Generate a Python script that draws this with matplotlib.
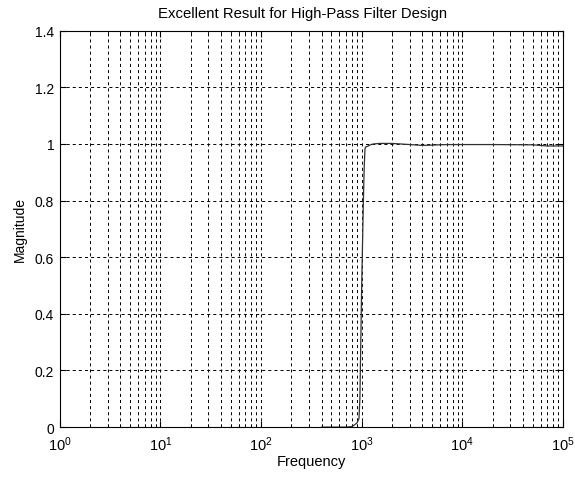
import numpy as np
import matplotlib
matplotlib.use("Agg")
import matplotlib.pyplot as plt
from matplotlib.ticker import LogLocator, NullFormatter

plt.rcParams['font.family'] = ['Liberation Sans', 'DejaVu Sans']
plt.rcParams['font.size'] = 10
plt.rcParams['mathtext.fontset'] = 'custom'
plt.rcParams['mathtext.rm'] = 'Liberation Sans'
plt.rcParams['lines.scale_dashes'] = False

# frequency response
freq = [400, 500, 600, 700, 800, 850, 900, 940, 960, 980, 1000, 1020, 1040,
        1060, 1080, 1100, 1150, 1200, 1300, 1500, 2000, 3000, 4000, 5000,
        7000, 10000, 20000, 50000, 70000, 100000]
mag = [0, 0, 0, 0, 0.002, 0.008, 0.015, 0.03, 0.1, 0.3, 0.5, 0.65, 0.8,
       0.92, 0.985, 0.99, 0.992, 0.996, 1.0, 1.002, 1.002, 0.998, 0.995,
       0.996, 0.998, 0.998, 0.998, 0.997, 0.993, 0.993]
yticks = [0, 0.2, 0.4, 0.6, 0.8, 1, 1.2, 1.4]
yticklabels = ['0', '0.2', '0.4', '0.6', '0.8', '1', '1.2', '1.4']

fig = plt.figure(figsize=(5.75, 4.81), dpi=100)
ax = fig.add_axes([0.104, 0.110, 0.875, 0.824])

ax.semilogx(freq, mag, color='#303030', lw=0.9)

ax.set_xlim(1, 1e5)
ax.set_ylim(0, 1.4)
ax.xaxis.set_major_locator(LogLocator(base=10, numticks=10))
ax.xaxis.set_minor_locator(LogLocator(base=10, subs=np.arange(2, 10), numticks=20))
ax.xaxis.set_minor_formatter(NullFormatter())
ax.set_yticks(yticks)
ax.set_yticklabels(yticklabels)

grid_style = dict(color='black', linestyle=(0, (2.2, 2.2)), linewidth=0.7)
ax.grid(True, which='major', axis='both', **grid_style)
ax.grid(True, which='minor', axis='x', **grid_style)

ax.tick_params(which='both', direction='in', top=True, right=True)
ax.tick_params(axis='y', labelsize=10, pad=4)
ax.tick_params(axis='x', labelsize=10.5, pad=5)
ax.tick_params(which='major', length=4)
ax.tick_params(which='minor', length=2)
for s in ax.spines.values():
    s.set_linewidth(0.8)

ax.set_title("Excellent Result for High-Pass Filter Design", fontsize=10.7,
             pad=10, x=0.483)
ax.set_xlabel("Frequency", fontsize=10.5, labelpad=1)
ax.set_ylabel("Magnitude", fontsize=10, labelpad=6)

fig.savefig("out.png", dpi=100)
